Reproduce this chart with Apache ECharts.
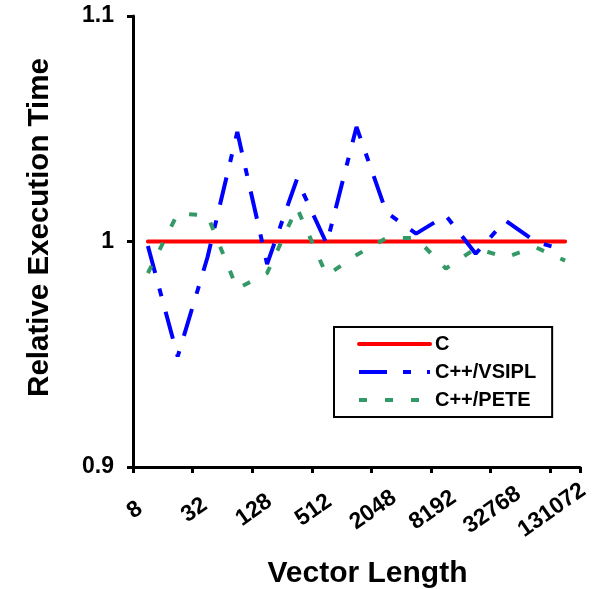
<!DOCTYPE html>
<html>
<head>
<meta charset="utf-8">
<script src="https://cdn.jsdelivr.net/npm/echarts@6/dist/echarts.min.js"></script>
<style>html,body{margin:0;padding:0;background:#fff}#c{width:604px;height:589px}</style>
</head>
<body>
<div id="c"></div>
<script>
var categories = ['8','16','32','64','128','256','512','1024','2048','4096','8192','16384','32768','65536','131072'];
var seriesC = [1,1,1,1,1,1,1,1,1,1,1,1,1,1,1];
var seriesVSIPL = [0.998, 0.949, 0.993, 1.0486, 0.990, 1.0276, 0.999, 1.0508, 1.013, 1.0035, 1.0115, 0.9946, 1.0093, 1.0, 0.996];
var seriesPETE = [0.986, 1.0124, 1.0115, 0.979, 0.986, 1.015, 0.985, 0.994, 1.0015, 1.0015, 0.988, 0.997, 0.993, 0.9975, 0.9915];
var yTicks = [0.9, 1.0, 1.1];

var FONT = '"Liberation Sans", Arial, sans-serif';
var chart = echarts.init(document.getElementById('c'), null, {renderer: 'canvas'});
chart.setOption({
  animation: false,
  backgroundColor: '#fff',
  grid: {left: 133, right: 24, top: 16, bottom: 122, containLabel: false, outerBoundsMode: 'none'},
  legend: {
    orient: 'vertical',
    left: 334, top: 327,
    itemWidth: 71, itemHeight: 14, itemGap: 8,
    padding: [7, 16, 7, 23],
    borderColor: '#000', borderWidth: 2,
    textStyle: {fontFamily: FONT, fontWeight: 'bold', fontSize: 20, color: '#000'},
    lineStyle: {width: 4},
    itemStyle: {opacity: 0},
    data: ['C', 'C++/VSIPL', 'C++/PETE']
  },
  xAxis: {
    type: 'category',
    data: categories,
    boundaryGap: true,
    name: 'Vector Length',
    nameLocation: 'middle',
    nameGap: 92,
    nameTextStyle: {fontFamily: FONT, fontWeight: 'bold', fontSize: 30, color: '#000', padding: [0, 0, 0, 22]},
    axisLine: {lineStyle: {color: '#000', width: 3}},
    axisTick: {show: true, interval: 1, length: 6, lineStyle: {color: '#000', width: 3}},
    axisLabel: {
      interval: 1, rotate: 35, align: 'center', verticalAlign: 'middle',
      padding: [0, 32, 0, 0], margin: 34,
      fontFamily: FONT, fontWeight: 'bold', fontSize: 23, color: '#000'
    },
    splitLine: {show: false}
  },
  yAxis: {
    type: 'value',
    min: yTicks[0], max: yTicks[2], interval: 0.1,
    name: 'Relative Execution Time',
    nameLocation: 'middle',
    nameGap: 78,
    nameTextStyle: {fontFamily: FONT, fontWeight: 'bold', fontSize: 29.5, color: '#000', padding: [0, 0, 0, 28]},
    axisLine: {show: true, lineStyle: {color: '#000', width: 3}},
    axisTick: {show: true, length: 6, lineStyle: {color: '#000', width: 3}},
    axisLabel: {margin: 19, fontFamily: FONT, fontWeight: 'bold', fontSize: 23, color: '#000'},
    splitLine: {show: false}
  },
  series: [
    {name: 'C', type: 'line', data: seriesC, symbol: 'none',
     lineStyle: {color: '#FF0000', width: 4, cap: 'round'}, itemStyle: {color: '#FF0000'}},
    {name: 'C++/VSIPL', type: 'line', data: seriesVSIPL, symbol: 'none',
     lineStyle: {color: '#0000FF', width: 4, type: [28, 16, 8, 16], cap: 'butt'}, itemStyle: {color: '#0000FF'}},
    {name: 'C++/PETE', type: 'line', data: seriesPETE, symbol: 'none',
     lineStyle: {color: '#339966', width: 4, type: [8, 18], cap: 'butt'}, itemStyle: {color: '#339966'}}
  ]
});
</script>
</body>
</html>
